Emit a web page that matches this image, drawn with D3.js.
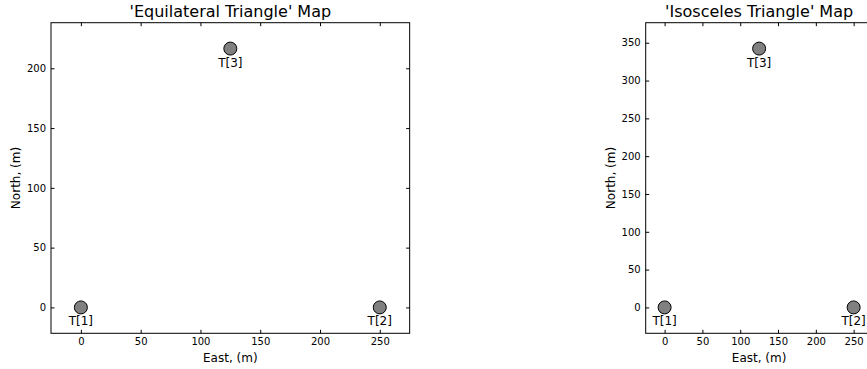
<!DOCTYPE html>
<html>
<head>
    <script src="https://d3js.org/d3.v7.min.js"></script>
    <style>
        body, html {
            margin: 0;
            background: #fff;
            overflow: hidden;
        }
        svg text {
            font-family: "DejaVu Sans", sans-serif;
            fill: #000;
        }
    </style>
</head>
<body>
<div id="chart"></div>
<script>
    // station labels and positions
    const labels = ["T[1]", "T[2]", "T[3]"];
    const eqEast = [0, 250, 125];
    const eqNorth = [0, 0, 216.5];
    const isoEast = [0, 250, 125];
    const isoNorth = [0, 0, 342.3];

    const xTicks = [0, 50, 100, 150, 200, 250];
    const eqYTicks = [0, 50, 100, 150, 200];
    const isoYTicks = [0, 50, 100, 150, 200, 250, 300, 350];

    const width = 867, height = 369;
    const plotTop = 22.7, plotBottom = 333.3;

    const svg = d3.select("#chart").append("svg")
        .attr("width", width)
        .attr("height", height);

    // pad data range by 10% on each side
    function padded(values) {
        const [lo, hi] = d3.extent(values);
        const m = (hi - lo) * 0.1;
        return [lo - m, hi + m];
    }

    function drawMap(left, title, east, north, yTicks) {
        const yDom = padded(north);
        const xDom = padded(east);
        const y = d3.scaleLinear().domain(yDom).range([plotBottom, plotTop]);
        const k = (plotBottom - plotTop) / (yDom[1] - yDom[0]); // equal aspect
        const right = left + k * (xDom[1] - xDom[0]);
        const x = d3.scaleLinear().domain(xDom).range([left, right]);

        const g = svg.append("g");

        const tick = -3.5;
        g.append("g")
            .attr("transform", `translate(0,${plotBottom})`)
            .call(d3.axisBottom(x).tickValues(xTicks).tickSizeInner(tick).tickSizeOuter(0).tickPadding(5));
        g.append("g")
            .attr("transform", `translate(0,${plotTop})`)
            .call(d3.axisTop(x).tickValues(xTicks).tickSizeInner(tick).tickSizeOuter(0).tickFormat(""));
        g.append("g")
            .attr("transform", `translate(${left},0)`)
            .call(d3.axisLeft(y).tickValues(yTicks).tickSizeInner(tick).tickSizeOuter(0).tickPadding(5));
        g.append("g")
            .attr("transform", `translate(${right},0)`)
            .call(d3.axisRight(y).tickValues(yTicks).tickSizeInner(tick).tickSizeOuter(0).tickFormat(""));

        g.selectAll(".domain").remove();
        g.selectAll(".tick line").attr("stroke", "#000").attr("stroke-width", 1);
        g.selectAll(".tick text").attr("font-size", 10).attr("font-family", "DejaVu Sans").attr("fill", "#000");

        g.append("rect")
            .attr("x", left).attr("y", plotTop)
            .attr("width", right - left).attr("height", plotBottom - plotTop)
            .attr("fill", "none").attr("stroke", "#000").attr("stroke-width", 1);

        const pts = east.map((e, i) => ({e: e, n: north[i], label: labels[i]}));
        g.selectAll("circle.pt").data(pts).enter().append("circle")
            .attr("class", "pt")
            .attr("cx", d => x(d.e))
            .attr("cy", d => y(d.n))
            .attr("r", 6.5)
            .attr("fill", "#808080")
            .attr("stroke", "#000")
            .attr("stroke-width", 1);
        g.selectAll("text.lbl").data(pts).enter().append("text")
            .attr("class", "lbl")
            .attr("x", d => x(d.e))
            .attr("y", d => y(d.n) + 18)
            .attr("text-anchor", "middle")
            .attr("font-size", 12)
            .text(d => d.label);

        g.append("text")
            .attr("x", (left + right) / 2)
            .attr("y", 16.7)
            .attr("text-anchor", "middle")
            .attr("font-size", 16)
            .text(title);
        g.append("text")
            .attr("x", (left + right) / 2)
            .attr("y", 361.5)
            .attr("text-anchor", "middle")
            .attr("font-size", 12)
            .text("East, (m)");
        g.append("text")
            .attr("transform", `translate(${left - 31},${(plotTop + plotBottom) / 2}) rotate(-90)`)
            .attr("text-anchor", "middle")
            .attr("font-size", 12)
            .text("North, (m)");
    }

    drawMap(51, "'Equilateral Triangle' Map", eqEast, eqNorth, eqYTicks);
    drawMap(645.7, "'Isosceles Triangle' Map", isoEast, isoNorth, isoYTicks);
</script>
</body>
</html>
